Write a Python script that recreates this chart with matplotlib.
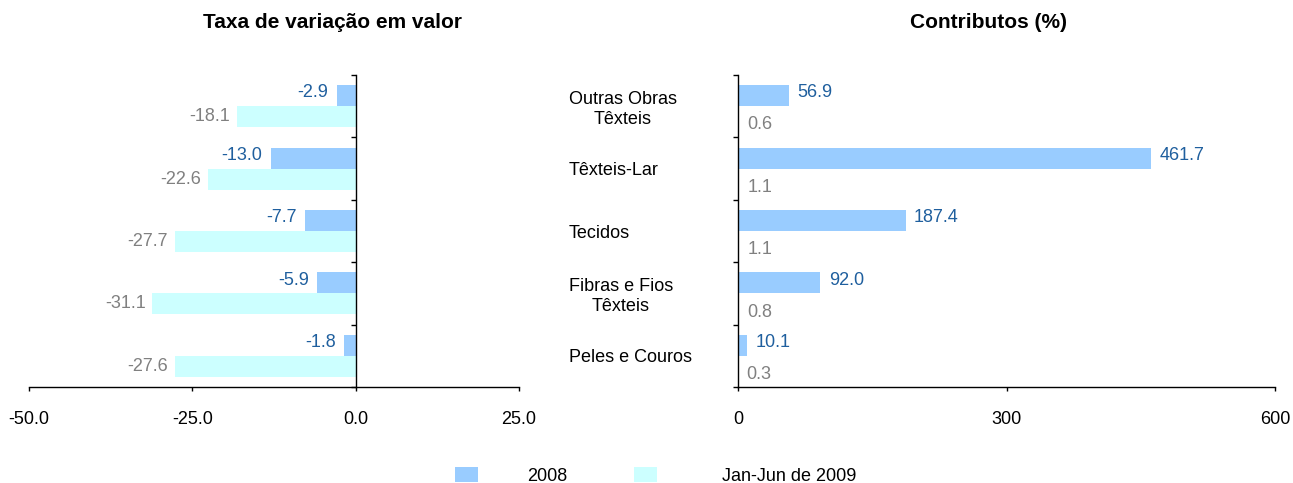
import matplotlib.pyplot as plt
import numpy as np
from matplotlib.patches import Patch

plt.rcParams['font.family'] = ['Liberation Sans', 'DejaVu Sans']

categorias = ['Outras Obras\nTêxteis', 'Têxteis-Lar', 'Tecidos', 'Fibras e Fios\nTêxteis', 'Peles e Couros']
series = ['2008', 'Jan-Jun de 2009']
taxa_2008 = [-2.9, -13.0, -7.7, -5.9, -1.8]
taxa_2009 = [-18.1, -22.6, -27.7, -31.1, -27.6]
contrib_2008 = [56.9, 461.7, 187.4, 92.0, 10.1]
contrib_2009 = [0.6, 1.1, 1.1, 0.8, 0.3]

cor_2008 = '#99CCFF'
cor_2009 = '#CCFFFF'
txt_2008 = '#1F5F9E'
txt_2009 = '#808080'
fs = 13
h = 0.335

fig = plt.figure(figsize=(12.93, 4.83), dpi=100)
ax = fig.add_axes([29/1293, 96/483, 490/1293, 312/483])
ax2 = fig.add_axes([738/1293, 96/483, 537/1293, 312/483])

y = np.arange(len(categorias))
limites = np.arange(len(categorias) + 1) - 0.5

# taxa de variacao
ax.barh(y - h/2, taxa_2008, height=h, color=cor_2008)
ax.barh(y + h/2, taxa_2009, height=h, color=cor_2009)
for i in range(len(y)):
    ax.annotate('%.1f' % taxa_2008[i], (taxa_2008[i], y[i] - h/2), xytext=(-6, 2),
                textcoords='offset points', ha='right', va='center', color=txt_2008, fontsize=fs)
    ax.annotate('%.1f' % taxa_2009[i], (taxa_2009[i], y[i] + h/2), xytext=(-5, 0),
                textcoords='offset points', ha='right', va='center', color=txt_2009, fontsize=fs)
ax.set_xlim(-50, 25)
ax.set_xticks([-50, -25, 0, 25])
ax.set_xticklabels(['%.1f' % v for v in [-50, -25, 0, 25]])
ax.set_ylim(limites[-1], limites[0])
ax.set_yticks(limites)
ax.set_yticklabels([])
ax.spines['left'].set_position(('data', 0))

# contributos
ax2.barh(y - h/2, contrib_2008, height=h, color=cor_2008)
ax2.barh(y + h/2, contrib_2009, height=h, color=cor_2009)
for i in range(len(y)):
    ax2.annotate('%.1f' % contrib_2008[i], (contrib_2008[i], y[i] - h/2), xytext=(6, 2),
                 textcoords='offset points', ha='left', va='center', color=txt_2008, fontsize=fs)
    ax2.annotate('%.1f' % contrib_2009[i], (contrib_2009[i], y[i] + h/2), xytext=(6, -6),
                 textcoords='offset points', ha='left', va='center', color=txt_2009, fontsize=fs)
ax2.set_xlim(0, 600)
ax2.set_xticks([0, 300, 600])
ax2.set_ylim(limites[-1], limites[0])
ax2.set_yticks(limites, minor=True)
ax2.set_yticks(y)
ax2.set_yticklabels(categorias, ha='left', multialignment='center')
ax2.tick_params(axis='y', which='major', length=0, pad=122)
ax2.tick_params(axis='y', which='minor', length=3.6, width=1, direction='out')

for a in (ax, ax2):
    for s in ('top', 'right'):
        a.spines[s].set_visible(False)
    a.spines['left'].set_linewidth(1)
    a.spines['bottom'].set_linewidth(1)
    a.tick_params(axis='x', length=3, width=1, direction='out', pad=14, labelsize=fs)
    a.tick_params(axis='y', labelsize=fs)
ax.tick_params(axis='y', length=3.6, width=1, direction='out')

fig.text(332/1293, 1 - 23/483, 'Taxa de variação em valor', ha='center', va='center',
         fontsize=15, fontweight='bold')
fig.text(988/1293, 1 - 23/483, 'Contributos (%)', ha='center', va='center',
         fontsize=15, fontweight='bold')

# legenda em duas partes para acertar o espacamento
cores = [cor_2008, cor_2009]
xs = [455, 634]
pads = [2.7, 3.6]
for k in range(2):
    fig.legend([Patch(facecolor=cores[k])], [series[k]], loc='center left',
               bbox_to_anchor=(xs[k]/1293, 7/483), frameon=False, fontsize=fs,
               handlelength=1.3, handleheight=0.85, handletextpad=pads[k],
               borderpad=0, borderaxespad=0)

fig.savefig('out.png', dpi=100)
